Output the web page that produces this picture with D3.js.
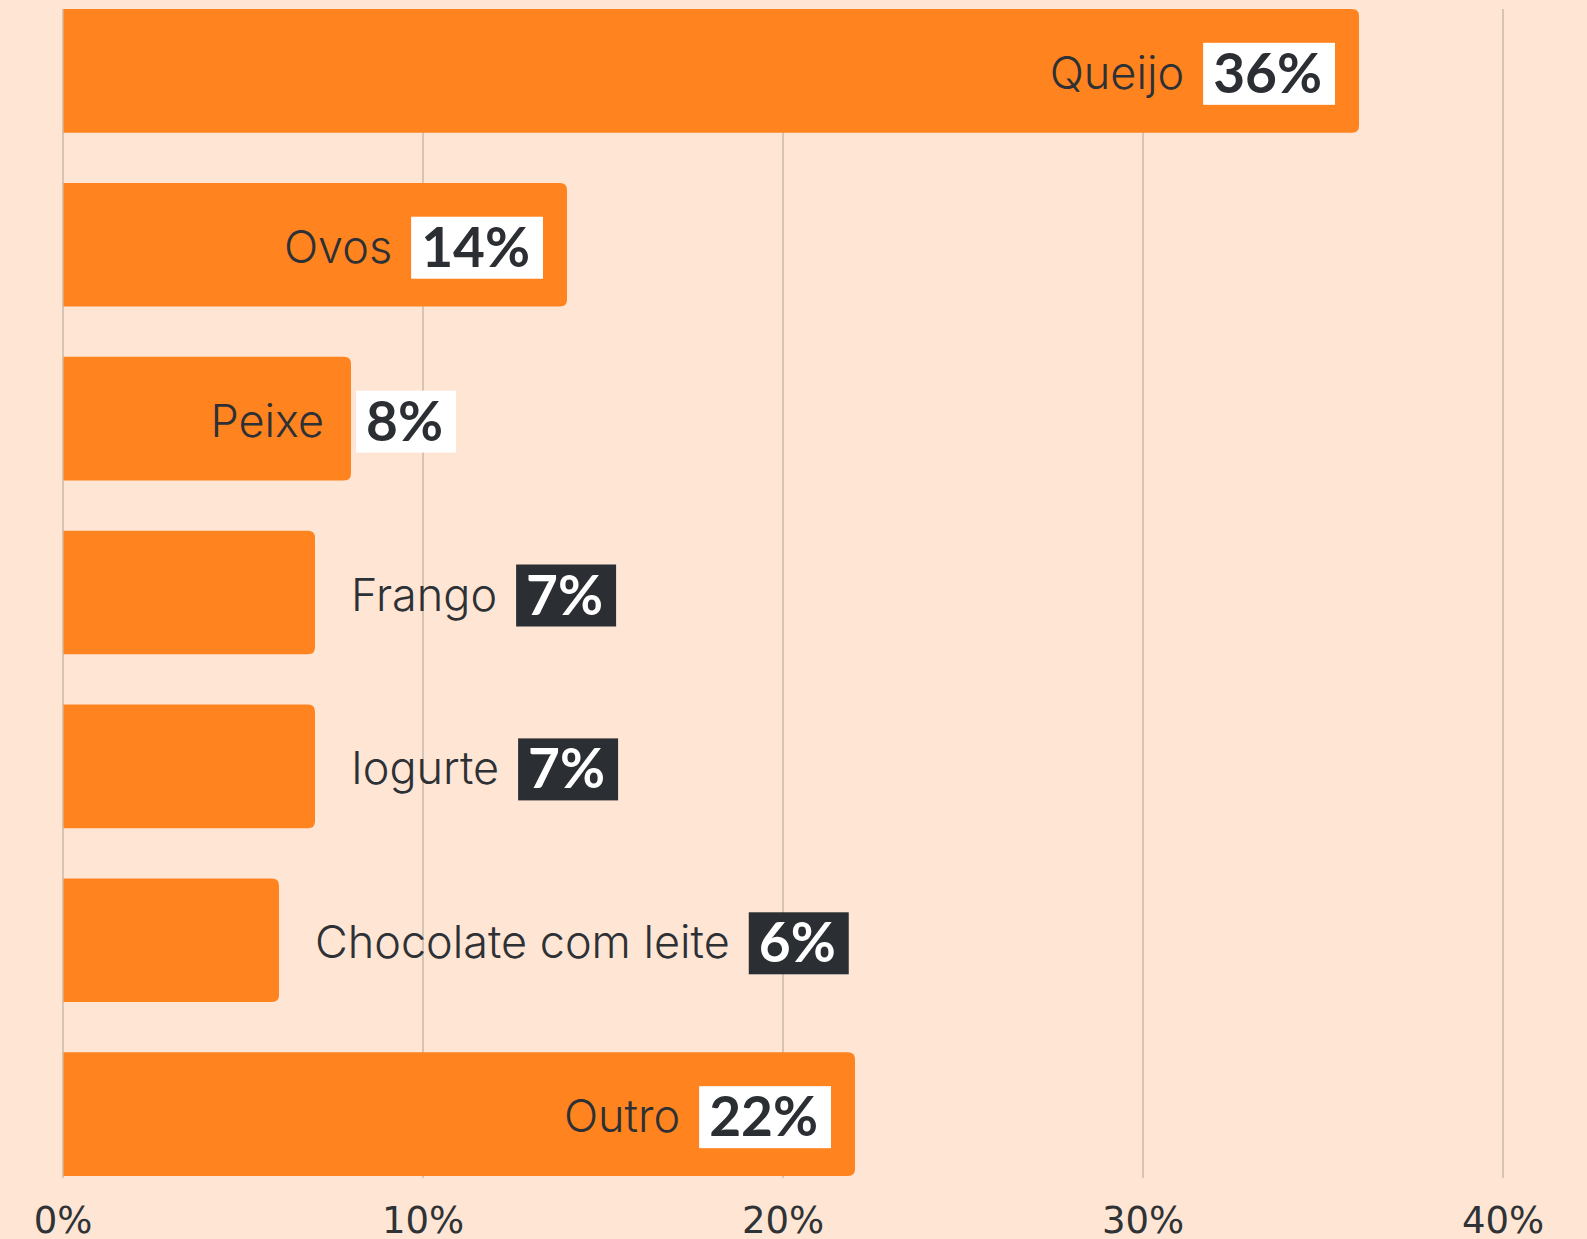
<!DOCTYPE html>
<html>
<head>
<meta charset="utf-8">
<script src="https://cdn.jsdelivr.net/npm/d3@7"></script>
<style>
  html, body { margin: 0; padding: 0; background: #fee5d4; }
  svg { display: block; }
</style>
</head>
<body>
<div class="canvas"><svg></svg></div>
<script>
const categories = ['Queijo', 'Ovos', 'Peixe', 'Frango', 'Iogurte', 'Chocolate com leite', 'Outro'];
const shares = [36, 14, 8, 7, 7, 6, 22];
const tickValues = [0, 10, 20, 30, 40];

const data = categories.map((name, i) => ({ name, value: shares[i] }));

const width = 1587, height = 1239;
const svg = d3.select('.canvas').select('svg')
  .attr('width', width)
  .attr('height', height)
  .attr('style', 'background:#fee5d4');

const x = d3.scaleLinear().domain([0, 40]).range([63, 1503]);
const y = d3.scaleBand().domain(categories).range([9, 1176])
  .paddingInner(0.289).paddingOuter(0);

// grid lines
svg.append('g').selectAll('line')
  .data(tickValues)
  .join('line')
  .attr('x1', d => x(d)).attr('x2', d => x(d))
  .attr('y1', 9).attr('y2', 1178)
  .attr('stroke', '#c8b8aa')
  .attr('stroke-width', 1.5);

// tick labels
svg.append('g').selectAll('text')
  .data(tickValues)
  .join('text')
  .attr('x', d => x(d))
  .attr('y', 1233)
  .attr('text-anchor', 'middle')
  .attr('font-family', '"DejaVu Sans", sans-serif')
  .attr('font-size', 37)
  .attr('fill', '#2f3336')
  .text(d => d + '%');

// bars, square on the left, rounded on the right
const r = 7;
function barPath(d) {
  const x0 = x(0) + 0.5, x1 = x(d.value), y0 = y(d.name), h = y.bandwidth();
  return `M${x0},${y0}H${x1 - r}Q${x1},${y0} ${x1},${y0 + r}V${y0 + h - r}Q${x1},${y0 + h} ${x1 - r},${y0 + h}H${x0}Z`;
}
svg.append('g').selectAll('path')
  .data(data)
  .join('path')
  .attr('d', barPath)
  .attr('fill', '#ff831f');

// labels: name + value box
const labels = svg.append('g').selectAll('g')
  .data(data)
  .join('g');

labels.each(function (d) {
  const g = d3.select(this);
  const cy = y(d.name) + y.bandwidth() / 2;
  const barEnd = x(d.value);
  const barW = barEnd - x(0);

  const name = g.append('text')
    .attr('font-family', 'Inter, sans-serif')
    .attr('font-weight', 300)
    .attr('font-size', 45)
    .attr('fill', '#2d3135')
    .attr('y', cy + 18)
    .text(d.name);
  const nameW = name.node().getComputedTextLength();

  const box = g.append('rect');
  const val = g.append('text')
    .attr('font-family', 'Lato, sans-serif')
    .attr('font-weight', 700)
    .attr('font-size', 55)
    .attr('y', cy + 22)
    .text(d.value + '%');
  const valW = val.node().getComputedTextLength();
  const boxW = valW + 23, gap = 19, pad = 24;
  const groupW = nameW + gap + boxW;

  let nameX, boxX, onBar;
  if (barW - groupW - pad >= 80) {
    boxX = barEnd - pad - boxW;
    nameX = boxX - gap - nameW;
    onBar = true;
  } else if (barW - nameW - 27 >= 100) {
    nameX = barEnd - 27 - nameW;
    boxX = barEnd + 5;
    onBar = true;
  } else {
    nameX = barEnd + 36;
    boxX = nameX + nameW + gap;
    onBar = false;
  }

  name.attr('x', nameX);
  box.attr('x', boxX).attr('y', cy + 3 - 31)
    .attr('width', boxW).attr('height', 62)
    .attr('fill', onBar ? '#ffffff' : '#2b2f33');
  val.attr('x', boxX + 10)
    .attr('fill', onBar ? '#2b2f33' : '#ffffff');
});
</script>
</body>
</html>
